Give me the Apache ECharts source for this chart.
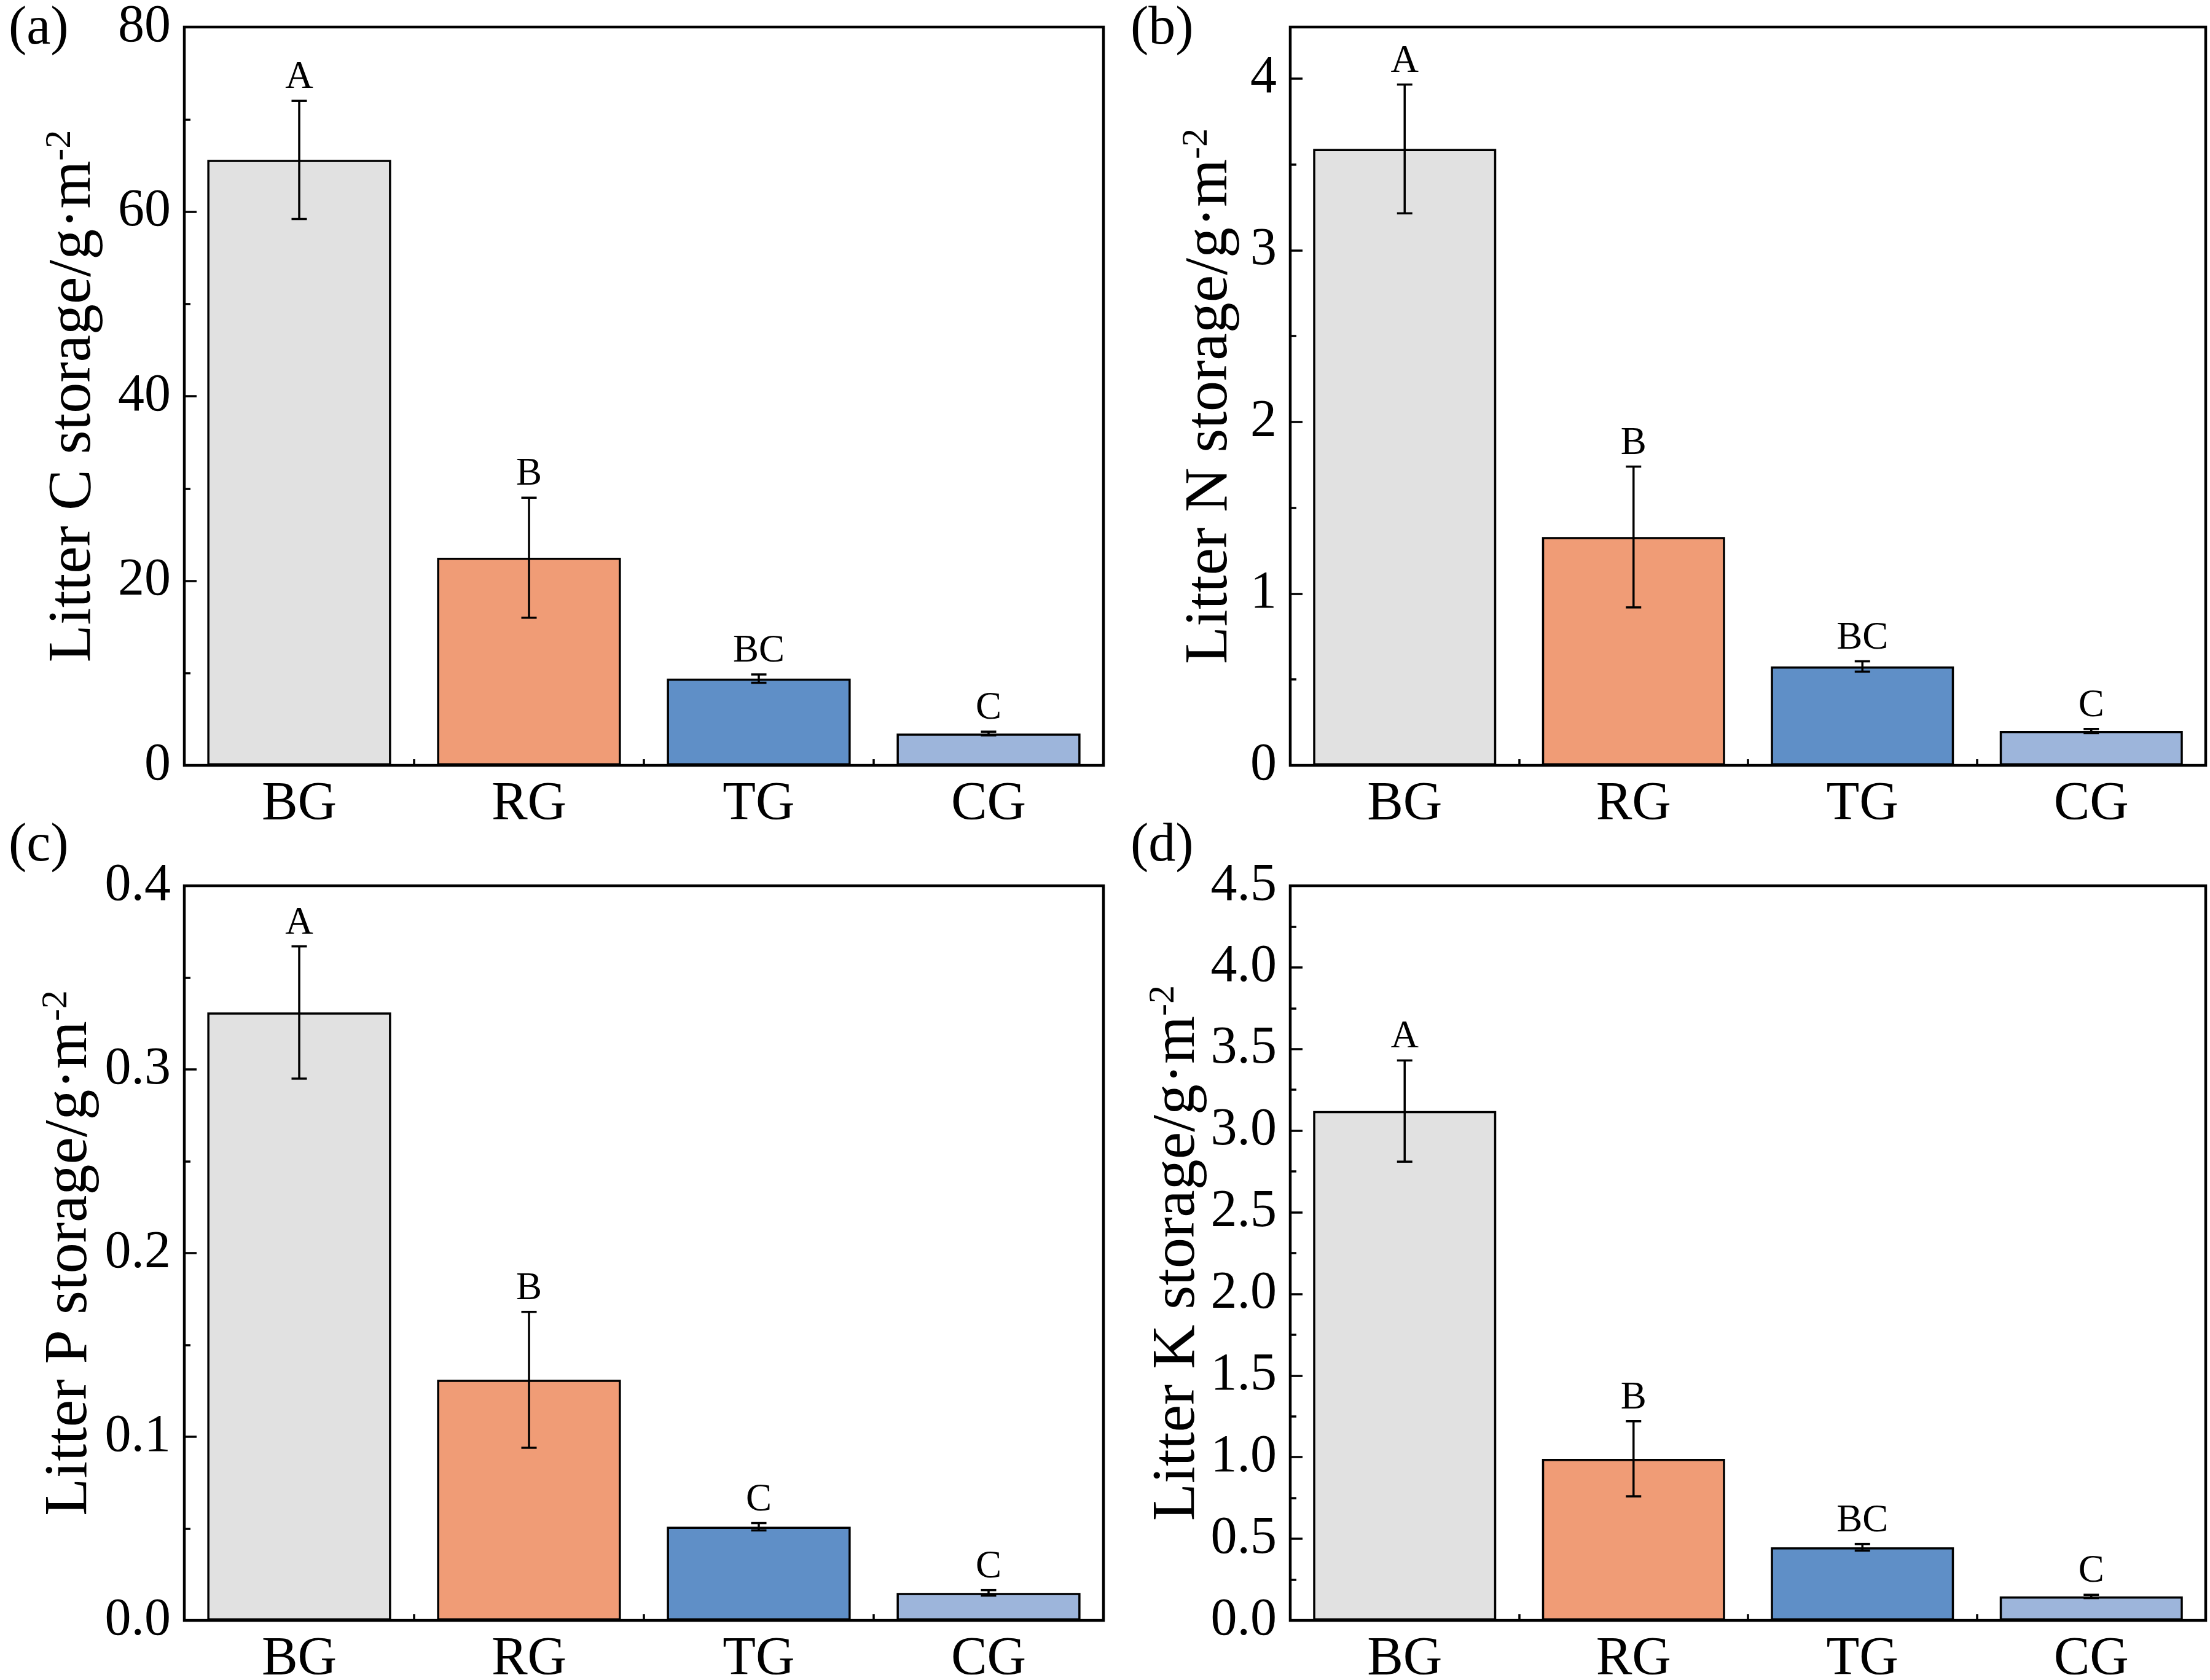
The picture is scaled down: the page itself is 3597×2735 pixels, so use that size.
<!DOCTYPE html>
<html>
<head>
<meta charset="utf-8">
<script src="https://cdn.jsdelivr.net/npm/echarts@6/dist/echarts.min.js"></script>
<style>
  html, body { margin: 0; padding: 0; background: #fff; }
  #chart { width: 3597px; height: 2735px; }
</style>
</head>
<body>
<div id="chart"></div>
<script>
// groups and bar colours
const categories = ['BG', 'RG', 'TG', 'CG']
const barColors = ['#E1E1E1', '#F09C76', '#5F8FC7', '#9DB5DB']

// (a) litter C storage
const cMean = [65.6, 22.5, 9.4, 3.45]
const cErr = [6.4, 6.5, 0.45, 0.2]
const cLetters = ['A', 'B', 'BC', 'C']
const cTickLabels = ['0', '20', '40', '60', '80']

// (b) litter N storage
const nMean = [3.59, 1.33, 0.576, 0.2]
const nErr = [0.375, 0.41, 0.03, 0.012]
const nLetters = ['A', 'B', 'BC', 'C']
const nTickLabels = ['0', '1', '2', '3', '4']

// (c) litter P storage
const pMean = [0.331, 0.131, 0.051, 0.015]
const pErr = [0.036, 0.037, 0.002, 0.0015]
const pLetters = ['A', 'B', 'C', 'C']
const pTickLabels = ['0.0', '0.1', '0.2', '0.3', '0.4']

// (d) litter K storage
const kMean = [3.12, 0.99, 0.448, 0.147]
const kErr = [0.31, 0.23, 0.02, 0.01]
const kLetters = ['A', 'B', 'BC', 'C']
const kTickLabels = ['0.0', '0.5', '1.0', '1.5', '2.0', '2.5', '3.0', '3.5', '4.0', '4.5']

const FONT = '"Times New Roman", "Liberation Serif", serif'

const panels = [
  { tag: '(a)', el: 'C', mean: cMean, err: cErr, letters: cLetters, ticks: cTickLabels, max: 80, step: 20, nameGap: 128, grid: { left: 300, top: 44, width: 1496, height: 1202 } },
  { tag: '(b)', el: 'N', mean: nMean, err: nErr, letters: nLetters, ticks: nTickLabels, max: 4.3, step: 1, nameGap: 78, grid: { left: 2100, top: 44, width: 1490, height: 1202 } },
  { tag: '(c)', el: 'P', mean: pMean, err: pErr, letters: pLetters, ticks: pTickLabels, max: 0.4, step: 0.1, nameGap: 134, grid: { left: 300, top: 1442, width: 1496, height: 1196 } },
  { tag: '(d)', el: 'K', mean: kMean, err: kErr, letters: kLetters, ticks: kTickLabels, max: 4.5, step: 0.5, nameGap: 130, grid: { left: 2100, top: 1442, width: 1490, height: 1196 } }
]

/** 误差棒 + 显著性字母 */
function errorBar (letters) {
  return function (params, api) {
    let i = api.value(0)
    let m = api.value(1)
    let e = api.value(2)
    let top = api.coord([i, m + e])
    let bot = api.coord([i, m - e])
    let half = 12.5
    let style = { stroke: '#000', lineWidth: 3.5 }
    return {
      type: 'group',
      children: [
        { type: 'line', shape: { x1: top[0], y1: top[1], x2: bot[0], y2: bot[1] }, style },
        { type: 'line', shape: { x1: top[0] - half, y1: top[1], x2: top[0] + half, y2: top[1] }, style },
        { type: 'line', shape: { x1: bot[0] - half, y1: bot[1], x2: bot[0] + half, y2: bot[1] }, style },
        {
          type: 'text',
          x: top[0],
          y: top[1] - 6,
          style: {
            text: letters[params.dataIndex],
            fill: '#000',
            fontSize: 63,
            fontFamily: FONT,
            align: 'center',
            verticalAlign: 'bottom'
          }
        }
      ]
    }
  }
}

let grid = []
let xAxis = []
let yAxis = []
let series = []
let graphic = []

panels.forEach((p, k) => {
  grid.push({ ...p.grid, show: true, borderColor: '#000', borderWidth: 4.5, backgroundColor: 'transparent', containLabel: false, outerBoundsMode: 'none' })
  // category axis: labels + ticks at bar centres
  xAxis.push({
    type: 'category',
    gridIndex: k,
    data: categories,
    axisLine: { show: false },
    axisTick: { show: true, alignWithLabel: true, inside: true, length: 20, lineStyle: { color: '#000', width: 3.5 } },
    axisLabel: { color: '#000', fontSize: 88, fontFamily: FONT, margin: 20 },
    splitLine: { show: false }
  })
  // short ticks between groups
  xAxis.push({
    type: 'value',
    gridIndex: k,
    min: 0,
    max: 4,
    interval: 1,
    position: 'bottom',
    axisLine: { show: false },
    axisTick: { show: true, inside: true, length: 10, lineStyle: { color: '#000', width: 3.5 } },
    axisLabel: { show: false },
    splitLine: { show: false }
  })
  yAxis.push({
    type: 'value',
    gridIndex: k,
    min: 0,
    max: p.max,
    interval: p.step,
    position: 'left',
    name: `{t|Litter ${p.el} storage/g·m}{s|-2}`,
    nameLocation: 'middle',
    nameGap: p.nameGap,
    nameTextStyle: {
      color: '#000',
      fontFamily: FONT,
      rich: {
        t: { fontSize: 100, fontFamily: FONT, color: '#000' },
        s: { fontSize: 60, fontFamily: FONT, color: '#000', padding: [0, 0, 44, 0] }
      }
    },
    axisLine: { show: false },
    axisTick: { show: true, inside: true, length: 20, lineStyle: { color: '#000', width: 3.5 } },
    axisLabel: {
      color: '#000',
      fontSize: 86,
      fontFamily: FONT,
      margin: 22,
      formatter: v => {
        let idx = Math.round(v / p.step)
        if (Math.abs(v - idx * p.step) > p.step * 1e-6) return ''
        return p.ticks[idx] ?? ''
      }
    },
    splitLine: { show: false }
  })
  // minor ticks
  yAxis.push({
    type: 'value',
    gridIndex: k,
    min: 0,
    max: p.max,
    interval: p.step / 2,
    position: 'left',
    offset: 0,
    axisLine: { show: false },
    axisTick: { show: true, inside: true, length: 10, lineStyle: { color: '#000', width: 3.5 } },
    axisLabel: { show: false },
    splitLine: { show: false }
  })
  series.push({
    type: 'bar',
    xAxisIndex: 2 * k,
    yAxisIndex: 2 * k,
    barWidth: '80%',
    data: p.mean.map((v, i) => ({ value: v, itemStyle: { color: barColors[i] } })),
    itemStyle: { borderColor: '#000', borderWidth: 3.5 },
    emphasis: { disabled: true },
    silent: true
  })
  series.push({
    type: 'custom',
    xAxisIndex: 2 * k,
    yAxisIndex: 2 * k,
    clip: false,
    silent: true,
    renderItem: errorBar(p.letters),
    data: p.mean.map((v, i) => [i, v, p.err[i]]),
    z: 5
  })
  graphic.push({
    type: 'text',
    left: k % 2 === 0 ? 14 : 1840,
    top: k < 2 ? 4 : 1334,
    style: { text: p.tag, fill: '#000', fontSize: 88, fontFamily: FONT }
  })
})

const chart = echarts.init(document.getElementById('chart'), null, { renderer: 'canvas' })
chart.setOption({
  animation: false,
  backgroundColor: '#fff',
  textStyle: { fontFamily: FONT, color: '#000' },
  grid,
  xAxis,
  yAxis,
  series,
  graphic
})
</script>
</body>
</html>
